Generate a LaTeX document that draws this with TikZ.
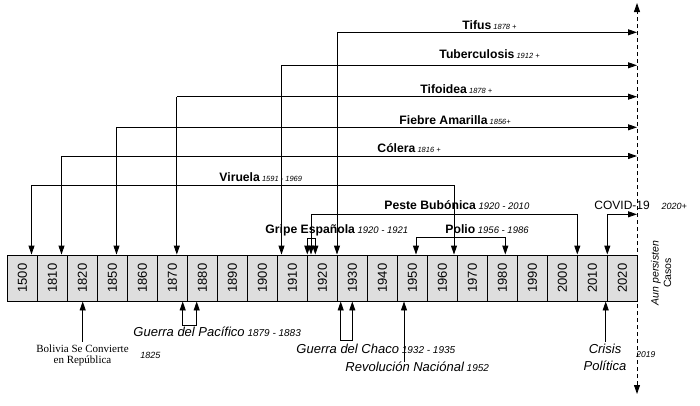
\documentclass[tikz,border=0pt]{standalone}
\usepackage{fontspec}
\setmainfont{Liberation Sans}
\newfontfamily\timesfont{Liberation Serif}
\usetikzlibrary{arrows.meta,positioning}
\newcommand{\anio}[2][7.5]{{\fontsize{#1}{#1}\selectfont\mdseries\itshape\ #2}}
\begin{document}
\begin{tikzpicture}[x=1pt,y=-1pt,>={Triangle[length=9pt,width=6pt]},line width=0.9pt,
  yearcell/.style={draw,fill=black!13,minimum width=30pt,minimum height=46pt,inner sep=0pt,font=\fontsize{13}{13}\selectfont},
  enfermedad/.style={anchor=base west,inner sep=0pt,font=\fontsize{12.2}{12}\selectfont\bfseries},
  suceso/.style={anchor=base west,inner sep=0pt,font=\fontsize{13}{14}\selectfont\itshape}]
\useasboundingbox (0,0) rectangle (700,405);
\foreach \yr [count=\i from 0] in {1500,1810,1820,1850,1860,1870,1880,1890,1900,1910,1920,1930,1940,1950,1960,1970,1980,1990,2000,2010,2020}
  \node[yearcell] (c\yr) at ({22.3+30*\i},278) {\rotatebox{90}{\yr}};
\coordinate (top) at (637,3);
\coordinate (bot) at (637,394);
\draw[<->,dashed,dash pattern=on 4pt off 3pt] (bot) -- (top);
\foreach \nm/\x/\y in {tifus/337/32.3,tuber/281.5/65.3,tifoidea/176.8/96.7,fiebre/116.5/127.3,colera/61.5/156}{
  \coordinate (\nm) at (\x,\y);
  \draw[->] (\nm) -- (\nm |- c1500.north);
  \draw[->] (\nm) -- (\nm -| top);
}
\node[enfermedad] (lbltifus) at (462,29) {Tifus\anio{1878 +}};
\node[enfermedad] (lbltuber) at (439,58.5) {Tuberculosis\anio{1912 +}};
\node[enfermedad] (lbltifoidea) at (420,93) {Tifoidea\anio{1878 +}};
\node[enfermedad] (lblfiebre) at (399,124) {Fiebre Amarilla\anio{1856+}};
\node[enfermedad] (lblcolera) at (377,152) {Cólera\anio{1816 +}};
\coordinate (viruelaL) at (31.5,185);
\coordinate (viruelaR) at (454,185);
\draw[<->] (viruelaL |- c1500.north) -- (viruelaL) -- (viruelaR) -- (viruelaR |- c1500.north);
\node[enfermedad] (lblviruela) at (219,181.5) {Viruela\anio{1591 - 1969}};
\coordinate (pesteL) at (311,214);
\coordinate (pesteR) at (577.3,214);
\draw[<->] (pesteL |- c1500.north) -- (pesteL) -- (pesteR) -- (pesteR |- c1500.north);
\node[enfermedad] (lblpeste) at (384,209) {Peste Bubónica\anio[9.5]{1920 - 2010}};
\coordinate (gripeL) at (307.3,238.3);
\coordinate (gripeR) at (315.3,238.3);
\draw[<->] (gripeL |- c1500.north) -- (gripeL) -- (gripeR) -- (gripeR |- c1500.north);
\node[enfermedad] (lblgripe) at (265,233.5) {Gripe Española\anio[9.5]{1920 - 1921}};
\coordinate (polioL) at (416,237.7);
\coordinate (polioR) at (505.3,237.7);
\draw[<->] (polioL |- c1500.north) -- (polioL) -- (polioR) -- (polioR |- c1500.north);
\node[enfermedad] (lblpolio) at (445,233.5) {Polio\anio[9.5]{1956 - 1986}};
\coordinate (covid) at (607.3,214.3);
\draw[<->] (covid |- c1500.north) -- (covid) -- (covid -| top);
\node[enfermedad,font=\fontsize{12}{12}\selectfont] (lblcovid) at (594,209.5) {COVID-19};
\node[anchor=base west,inner sep=0pt,font=\fontsize{9}{9}\selectfont\itshape] (yrcovid) at ([xshift=11pt]lblcovid.base east) {2020+};
\node[rotate=90,align=center,inner sep=0pt,font=\fontsize{10.5}{12.5}\selectfont] (persisten) at (661,273) {\textit{Aun persisten}\\Casos};
\coordinate (bolivia) at (82.7,341.7);
\draw[->] (bolivia) -- (bolivia |- c1500.south);
\node[anchor=north,align=center,inner sep=0pt,font=\timesfont\fontsize{11}{11}\selectfont] (lblbolivia) at (82.5,344) {Bolivia Se Convierte\\en República};
\node[anchor=base west,inner sep=0pt,font=\fontsize{9}{9}\selectfont\itshape] (yrbolivia) at (140,358) {1825};
\coordinate (pacL) at (182.7,325);
\coordinate (pacR) at (196.7,325);
\draw[<->] (pacL |- c1500.south) -- (pacL) -- (pacR) -- (pacR |- c1500.south);
\node[suceso] (lblpacifico) at (133,336.7) {Guerra del Pacífico\anio[10]{1879 - 1883}};
\coordinate (chacoL) at (340.7,340.7);
\coordinate (chacoR) at (352.3,340.7);
\draw[<->] (chacoL |- c1500.south) -- (chacoL) -- (chacoR) -- (chacoR |- c1500.south);
\node[suceso] (lblchaco) at (296,353) {Guerra del Chaco\anio[10]{1932 - 1935}};
\coordinate (revolucion) at (404,362);
\draw[->] (revolucion) -- (revolucion |- c1500.south);
\node[suceso] (lblrevolucion) at (345,371) {Revolución Naciónal\anio[10]{1952}};
\coordinate (crisis) at (605.7,342);
\draw[->] (crisis) -- (crisis |- c1500.south);
\node[anchor=north,align=center,inner sep=0pt,font=\fontsize{13}{16.5}\selectfont\itshape] (lblcrisis) at (605,344) {Crisis\\Política};
\node[anchor=base west,inner sep=0pt,font=\fontsize{8.5}{9}\selectfont\itshape] (yrcrisis) at (636,357) {2019};
\end{tikzpicture}
\end{document}
